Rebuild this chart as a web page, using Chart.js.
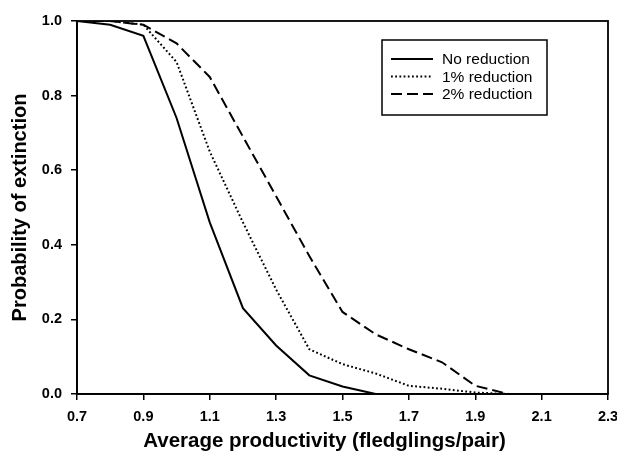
<!DOCTYPE html>
<html>
<head>
<meta charset="utf-8">
<title>Probability of extinction</title>
<script src="https://cdn.jsdelivr.net/npm/chart.js@4"></script>
<style>
  html, body { margin: 0; padding: 0; background: #fff; }
  #chart { display: block; }
</style>
</head>
<body>
<canvas id="chart" width="617" height="457"></canvas>
<script>
// Data
const productivity = [0.7, 0.8, 0.9, 1.0, 1.1, 1.2, 1.3, 1.4, 1.5, 1.6, 1.7, 1.8, 1.9, 2.0, 2.1, 2.2, 2.3];
const noReduction  = [1.0, 0.99, 0.96, 0.74, 0.46, 0.23, 0.13, 0.05, 0.02, 0.0, 0, 0, 0, 0, 0, 0, 0];
const oneReduction = [1.0, 1.0, 0.99, 0.89, 0.65, 0.46, 0.28, 0.12, 0.08, 0.055, 0.022, 0.014, 0.004, 0, 0, 0, 0];
const twoReduction = [1.0, 1.0, 0.99, 0.94, 0.85, 0.69, 0.53, 0.37, 0.22, 0.16, 0.12, 0.085, 0.022, 0, 0, 0, 0];
const seriesLabels = ["No reduction", "1% reduction", "2% reduction"];
const xTicks = [0.7, 0.9, 1.1, 1.3, 1.5, 1.7, 1.9, 2.1, 2.3];
const yTicks = [0.0, 0.2, 0.4, 0.6, 0.8, 1.0];
const xTitle = "Average productivity (fledglings/pair)";
const yTitle = "Probability of extinction";

const FONT = "'Liberation Sans', Arial, Helvetica, sans-serif";
const dashes = [[], [1.8, 2.4], [11, 5]];

function toPoints(values) {
    return productivity.map((x, i) => ({ x: x, y: values[i] }));
}

// frame round the plot area and the x title (sits a little left of centre in the original)
const frame = {
    id: "frame",
    afterDraw(chart) {
        const { ctx, chartArea } = chart;
        ctx.save();
        ctx.strokeStyle = "#000";
        ctx.lineWidth = 1.8;
        ctx.strokeRect(chartArea.left, chartArea.top, chartArea.right - chartArea.left, chartArea.bottom - chartArea.top);
        ctx.font = "bold 20.5px " + FONT;
        ctx.fillStyle = "#000";
        ctx.textAlign = "center";
        ctx.textBaseline = "middle";
        ctx.fillText(xTitle, (chartArea.left + chartArea.right) / 2 - 18, 441);
        ctx.restore();
    }
};

// boxed legend inside the plot
const boxLegend = {
    id: "boxLegend",
    afterDraw(chart) {
        const ctx = chart.ctx;
        const left = 382, top = 40, w = 165, h = 75;
        ctx.save();
        ctx.fillStyle = "#fff";
        ctx.fillRect(left, top, w, h);
        ctx.strokeStyle = "#000";
        ctx.lineWidth = 1.5;
        ctx.strokeRect(left, top, w, h);
        ctx.font = "15.5px " + FONT;
        ctx.textBaseline = "middle";
        ctx.fillStyle = "#000";
        chart.data.datasets.forEach((ds, i) => {
            const y = top + 19 + i * 17.5;
            ctx.beginPath();
            ctx.setLineDash(ds.borderDash || []);
            ctx.lineWidth = ds.borderWidth;
            ctx.moveTo(left + 9, y);
            ctx.lineTo(left + 51, y);
            ctx.stroke();
            ctx.setLineDash([]);
            ctx.fillText(ds.label, left + 60, y + 1);
        });
        ctx.restore();
    }
};

const datasets = [noReduction, oneReduction, twoReduction].map((vals, i) => ({
    label: seriesLabels[i],
    data: toPoints(vals),
    borderColor: "#000",
    backgroundColor: "#000",
    borderWidth: 2,
    borderDash: dashes[i],
    pointRadius: 0,
    tension: 0,
    fill: false
}));

new Chart(document.getElementById("chart"), {
    type: "line",
    data: { datasets: datasets },
    options: {
        responsive: false,
        animation: false,
        devicePixelRatio: 1,
        layout: { padding: { top: 21, right: 9, left: 0, bottom: 0 } },
        plugins: {
            legend: { display: false },
            tooltip: { enabled: false }
        },
        scales: {
            x: {
                type: "linear",
                min: 0.7,
                max: 2.3,
                afterFit(scale) {
                    scale.height = 63;
                    scale.paddingLeft = 0;
                    scale.paddingRight = 0;
                },
                afterBuildTicks(scale) { scale.ticks = xTicks.map(v => ({ value: v })); },
                ticks: {
                    color: "#000",
                    padding: 8,
                    maxRotation: 0,
                    font: { family: FONT, size: 14.5, weight: "bold" },
                    callback: v => Number(v).toFixed(1)
                },
                grid: { drawOnChartArea: false, drawTicks: true, tickLength: 6, color: "#000", lineWidth: 1.5 },
                border: { display: true, color: "#000", width: 1.8 },
                title: { display: false }
            },
            y: {
                min: 0,
                max: 1,
                afterFit(scale) {
                    scale.width = 77;
                    scale.paddingTop = 0;
                    scale.paddingBottom = 0;
                },
                afterBuildTicks(scale) { scale.ticks = yTicks.map(v => ({ value: v })); },
                ticks: {
                    color: "#000",
                    padding: 9,
                    font: { family: FONT, size: 14.5, weight: "bold" },
                    callback: v => Number(v).toFixed(1)
                },
                grid: { drawOnChartArea: false, drawTicks: true, tickLength: 6, color: "#000", lineWidth: 1.5 },
                border: { display: true, color: "#000", width: 1.8 },
                title: {
                    display: true,
                    text: yTitle,
                    color: "#000",
                    padding: { top: 8, bottom: 0 },
                    font: { family: FONT, size: 20, weight: "bold" }
                }
            }
        }
    },
    plugins: [frame, boxLegend]
});
</script>
</body>
</html>
